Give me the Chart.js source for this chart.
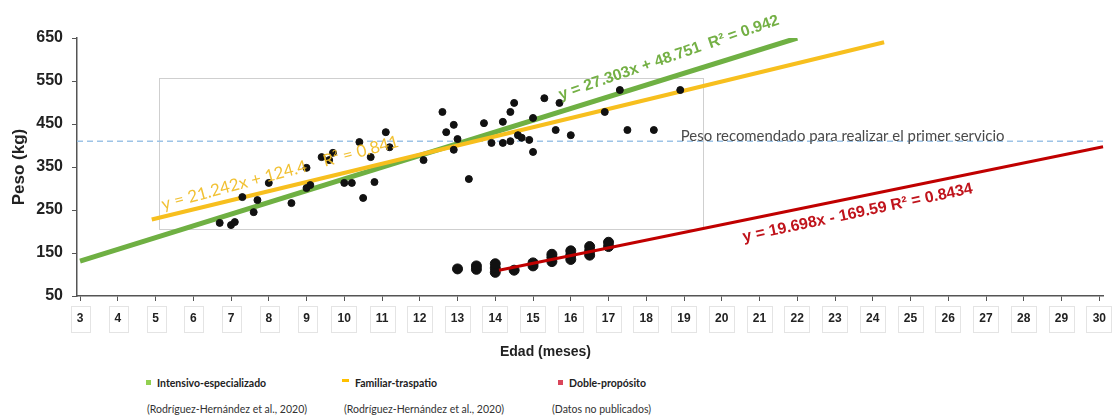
<!DOCTYPE html>
<html>
<head>
<meta charset="utf-8">
<script src="https://cdn.jsdelivr.net/npm/chart.js@4/dist/chart.umd.min.js"></script>
<style>
  body { margin: 0; background: #fff; }
  #wrap { position: relative; width: 1116px; height: 420px; }
  .lg { position: absolute; font-family: Lato, "Open Sans", sans-serif; font-size: 10.5px; color: #333; white-space: nowrap; }
  .lg b { font-weight: 700; color: #222; }
  .mk { display: inline-block; margin-right: 6px; vertical-align: 2px; }
</style>
</head>
<body>
<div id="wrap">
  <canvas id="chart" width="1116" height="360"></canvas>
  <div class="lg" style="left:146px;top:377px"><span class="mk" style="width:5px;height:5px;background:#92d050"></span><b>Intensivo-especializado</b></div>
  <div class="lg" style="left:147px;top:403px">(Rodríguez-Hernández et al., 2020)</div>
  <div class="lg" style="left:342px;top:377px"><span class="mk" style="width:7px;height:3px;background:#ffc000;vertical-align:5px"></span><b>Familiar-traspatio</b></div>
  <div class="lg" style="left:344px;top:403px">(Rodríguez-Hernández et al., 2020)</div>
  <div class="lg" style="left:558px;top:377px"><span class="mk" style="width:5px;height:5px;background:#d9455a"></span><b>Doble-propósito</b></div>
  <div class="lg" style="left:552px;top:403px">(Datos no publicados)</div>
</div>
<script>
// Peso vs edad, tres sistemas de producción

const xTicks = [3, 4, 5, 6, 7, 8, 9, 10, 11, 12, 13, 14, 15, 16, 17, 18, 19, 20, 21, 22, 23, 24, 25, 26, 27, 28, 29, 30];
const yTicks = [50, 150, 250, 350, 450, 550, 650];

// observaciones (intensivo + familiar)
const obsAge = [6.7, 7.0, 7.1, 7.3, 7.6, 7.7, 8.0, 8.6, 9.0, 9.1, 9.0, 9.4, 9.7, 9.6, 10.2, 10.0,
    10.4, 10.5, 10.7, 10.8, 11.1, 11.2, 12.1, 12.6, 12.9, 12.7, 13.0, 12.9, 13.3, 13.7, 13.9, 14.2,
    14.2, 14.5, 14.4, 14.6, 14.9, 15.0, 15.0, 15.3, 15.7, 15.6, 16.0, 16.9, 17.3, 17.5, 18.2, 18.9,
    14.4, 14.7];
const obsWeight = [220, 215, 222, 280, 245, 273, 313, 266, 301, 308, 348, 373, 383, 366, 313, 313,
    408, 278, 373, 315, 431, 396, 366, 478, 448, 431, 415, 390, 322, 452, 406, 406,
    455, 499, 478, 424, 413, 385, 464, 510, 499, 436, 424, 478, 529, 436, 436, 529,
    410, 418];

// doble propósito
const dpAge = [13, 13.5, 13.5, 14, 14, 14, 14.5, 15, 15, 15.5, 15.5, 15.5, 16, 16, 16, 16.5, 16.5, 16.5, 17, 17];
const dpWeight = [113, 112, 120, 105, 115, 125, 110, 120, 127, 130, 140, 147, 135, 145, 155, 145, 155, 165, 165, 175];

// líneas de tendencia (extremos)
const intensivoX = [3, 22];
const intensivoY = [131, 650];
const familiarX = [4.9, 24.3];
const familiarY = [228, 640];
const dobleX = [14.1, 30.1];
const dobleY = [110, 397];

const pesoServicio = 410;
const xRange = [2.92, 30.12];

const zip = (xs, ys) => xs.map((x, i) => ({ x: x, y: ys[i] }));

// textos sobre el gráfico (posición en unidades de datos)
const notes = [
    { text: 'y = 27.303x + 48.751  R² = 0.942', x: 18.6, y: 604, angle: 19, color: '#74b045', width: 232, bold: true },
    { text: 'y = 21.242x + 124.4    R² = 0.841', x: 8.3, y: 336, angle: 15, color: 'rgba(240,190,40,0.95)', width: 245, bold: false },
    { text: 'y = 19.698x - 169.59 R² = 0.8434', x: 23.6, y: 243, angle: 12, color: '#c0141c', width: 235, bold: true },
    { text: 'Peso recomendado para realizar el primer servicio', x: 23.2, y: 422, angle: 0, color: '#4a4a4a', width: 324, bold: false }
];
const xTitle = { text: 'Edad (meses)', x: 15.33 };
// recuadro gris
const box = { x0: 5.1, x1: 19.5, y0: 206, y1: 557 };

const fontSans = '"Liberation Sans", Arial, sans-serif';

const overlay = {
    id: 'overlay',
    beforeDatasetsDraw(chart) {
        const { ctx, scales: { x, y } } = chart;
        ctx.save();
        ctx.strokeStyle = '#cfcfcf';
        ctx.lineWidth = 1;
        const l = Math.round(x.getPixelForValue(box.x0)) + 0.5;
        const r = Math.round(x.getPixelForValue(box.x1)) + 0.5;
        const t = Math.round(y.getPixelForValue(box.y1)) + 0.5;
        const b = Math.round(y.getPixelForValue(box.y0)) + 0.5;
        ctx.strokeRect(l, t, r - l, b - t);

        // cajitas tenues de las etiquetas del eje x
        ctx.strokeStyle = '#e4e4e4';
        ctx.font = 'bold 12px ' + fontSans;
        xTicks.forEach(v => {
            const px = Math.round(x.getPixelForValue(v));
            const w = ctx.measureText(String(v)).width + 12;
            ctx.strokeRect(px - Math.round(w / 2) + 0.5, x.top + 10.5, Math.round(w), 26);
        });
        ctx.restore();
    },
    afterDatasetsDraw(chart) {
        const { ctx, scales: { x, y } } = chart;
        notes.forEach(n => {
            ctx.save();
            const fam = n.bold ? fontSans : 'Lato, "Open Sans", sans-serif';
            const weight = n.bold ? 'bold ' : '';
            ctx.font = weight + '13px ' + fam;
            const size = 13 * n.width / ctx.measureText(n.text).width;
            ctx.font = weight + size.toFixed(2) + 'px ' + fam;
            ctx.translate(x.getPixelForValue(n.x), y.getPixelForValue(n.y));
            ctx.rotate(-n.angle * Math.PI / 180);
            ctx.fillStyle = n.color;
            ctx.textAlign = 'center';
            ctx.textBaseline = 'middle';
            ctx.fillText(n.text, 0, 0);
            ctx.restore();
        });

        ctx.save();
        ctx.font = 'bold 14px ' + fontSans;
        ctx.fillStyle = '#222';
        ctx.textAlign = 'center';
        ctx.textBaseline = 'middle';
        ctx.fillText(xTitle.text, x.getPixelForValue(xTitle.x), x.bottom - 8);
        ctx.restore();
    }
};

const tickFont = { family: fontSans, weight: 'bold' };

new Chart(document.getElementById('chart').getContext('2d'), {
    type: 'scatter',
    data: {
        datasets: [
            {
                label: 'Intensivo-especializado',
                data: zip(intensivoX, intensivoY),
                showLine: true,
                borderColor: '#6fb043',
                borderWidth: 5,
                pointRadius: 0,
                order: 3
            },
            {
                label: 'Familiar-traspatio',
                data: zip(familiarX, familiarY),
                showLine: true,
                borderColor: '#f7bf1e',
                borderWidth: 4,
                pointRadius: 0,
                order: 2
            },
            {
                label: 'Peso recomendado',
                data: zip(xRange, [pesoServicio, pesoServicio]),
                showLine: true,
                borderColor: '#9dc3e6',
                borderWidth: 1.5,
                borderDash: [6, 4],
                pointRadius: 0,
                order: 4
            },
            {
                label: 'Observaciones',
                data: zip(obsAge, obsWeight),
                backgroundColor: '#111',
                borderColor: '#111',
                pointRadius: 3.5,
                order: 1
            },
            {
                label: 'Doble-propósito datos',
                data: zip(dpAge, dpWeight),
                backgroundColor: '#111',
                borderColor: '#111',
                pointRadius: 5,
                order: 1
            },
            {
                label: 'Doble-propósito',
                data: zip(dobleX, dobleY),
                showLine: true,
                borderColor: '#c00000',
                borderWidth: 3,
                pointRadius: 0,
                order: 0
            }
        ]
    },
    options: {
        responsive: false,
        animation: false,
        layout: { padding: { top: 38, right: 4, left: 0, bottom: 0 } },
        plugins: {
            legend: { display: false },
            tooltip: { enabled: false }
        },
        scales: {
            x: {
                type: 'linear',
                min: xRange[0],
                max: xRange[1],
                afterBuildTicks: s => { s.ticks = xTicks.map(v => ({ value: v })); },
                afterFit: s => { s.height = 64; },
                grid: { drawOnChartArea: false, tickLength: 5, color: '#555' },
                border: { color: '#555', width: 1.5 },
                ticks: {
                    autoSkip: false,
                    maxRotation: 0,
                    padding: 10,
                    color: '#222',
                    font: Object.assign({ size: 12 }, tickFont)
                },
                title: { display: false }
            },
            y: {
                min: 50,
                max: 650,
                afterBuildTicks: s => { s.ticks = yTicks.map(v => ({ value: v })); },
                afterFit: s => { s.width = 77; },
                grid: { drawOnChartArea: false, tickLength: 5, color: '#555' },
                border: { color: '#555', width: 1.5 },
                ticks: {
                    padding: 9,
                    color: '#222',
                    font: Object.assign({ size: 16 }, tickFont)
                },
                title: {
                    display: true,
                    text: 'Peso (kg)',
                    color: '#222',
                    padding: { top: 9, bottom: 0 },
                    font: Object.assign({ size: 17 }, tickFont)
                }
            }
        }
    },
    plugins: [overlay]
});
</script>
</body>
</html>
